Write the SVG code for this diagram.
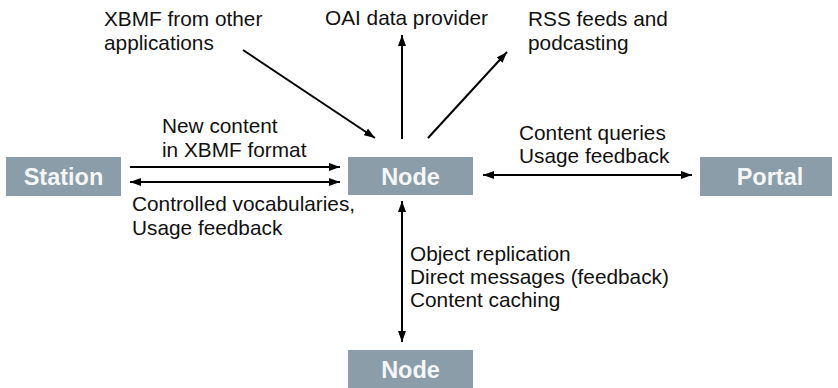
<svg xmlns="http://www.w3.org/2000/svg" width="838" height="388" viewBox="0 0 838 388">
  <style>
    .box { fill: #8b9da8; }
    .boxlabel { font-family: "Liberation Sans", Arial, sans-serif; font-weight: bold; font-size: 23.5px; fill: #f4f6f7; text-anchor: middle; }
    .label { font-family: "Liberation Sans", Arial, sans-serif; font-size: 20.8px; fill: #111; }
    .edge { stroke: #000; stroke-width: 2; fill: none; }
  </style>
  <defs>
    <marker id="arrow" viewBox="0 0 11 8" refX="11" refY="4" markerWidth="11" markerHeight="8" markerUnits="userSpaceOnUse" orient="auto-start-reverse">
      <path d="M0,0 L11,4 L0,8 Z" fill="#000"/>
    </marker>
  </defs>
  <rect width="838" height="388" fill="#fff"/>

  <g id="connectors">
    <!-- station to node -->
    <line class="edge" x1="130" y1="167" x2="340" y2="167" marker-end="url(#arrow)"/>
    <line class="edge" x1="130" y1="182" x2="340" y2="182" marker-start="url(#arrow)" marker-end="url(#arrow)"/>
    <!-- node to portal -->
    <line class="edge" x1="483" y1="175" x2="692" y2="175" marker-start="url(#arrow)" marker-end="url(#arrow)"/>
    <!-- node to node -->
    <line class="edge" x1="402" y1="201" x2="402" y2="342" marker-start="url(#arrow)" marker-end="url(#arrow)"/>
    <!-- external feeds -->
    <line class="edge" x1="243" y1="50" x2="375" y2="138" marker-end="url(#arrow)"/>
    <line class="edge" x1="402" y1="139" x2="402" y2="35" marker-end="url(#arrow)"/>
    <line class="edge" x1="428" y1="138" x2="507" y2="52" marker-end="url(#arrow)"/>
  </g>

  <g id="station">
    <rect class="box" x="6" y="157" width="115" height="39"/>
    <text class="boxlabel" x="63.5" y="185">Station</text>
  </g>
  <g id="node">
    <rect class="box" x="348" y="157" width="125" height="38"/>
    <text class="boxlabel" x="410.5" y="185">Node</text>
  </g>
  <g id="portal">
    <rect class="box" x="700" y="157" width="132" height="39"/>
    <text class="boxlabel" x="770" y="185">Portal</text>
  </g>
  <g id="node-remote">
    <rect class="box" x="348" y="350" width="125" height="38"/>
    <text class="boxlabel" x="410.5" y="378">Node</text>
  </g>

  <g id="labels">
    <text class="label" x="104" y="26">XBMF from other</text>
    <text class="label" x="104" y="50">applications</text>
    <text class="label" x="325" y="25">OAI data provider</text>
    <text class="label" x="528" y="26">RSS feeds and</text>
    <text class="label" x="528" y="50">podcasting</text>
    <text class="label" x="162" y="133">New content</text>
    <text class="label" x="162" y="157">in XBMF format</text>
    <text class="label" x="132" y="211">Controlled vocabularies,</text>
    <text class="label" x="132" y="235">Usage feedback</text>
    <text class="label" x="519" y="140">Content queries</text>
    <text class="label" x="519" y="163">Usage feedback</text>
    <text class="label" x="410" y="261">Object replication</text>
    <text class="label" x="410" y="284">Direct messages (feedback)</text>
    <text class="label" x="410" y="307">Content caching</text>
  </g>
</svg>
